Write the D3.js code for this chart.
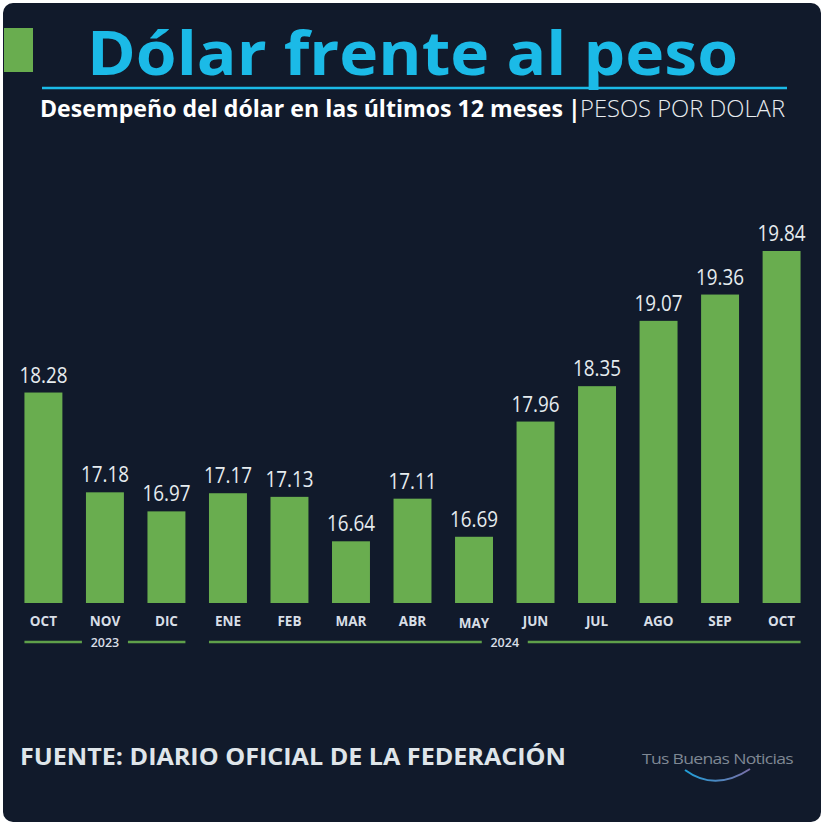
<!DOCTYPE html>
<html>
<head>
<meta charset="utf-8">
<script src="https://cdn.jsdelivr.net/npm/d3@7"></script>
<style>
  body { margin: 0; background: #ffffff; }
  text { font-family: "Open Sans", "Noto Sans", sans-serif; }
</style>
</head>
<body>
<script>
var months = ['OCT','NOV','DIC','ENE','FEB','MAR','ABR','MAY','JUN','JUL','AGO','SEP','OCT'];
var values = [18.28,17.18,16.97,17.17,17.13,16.64,17.11,16.69,17.96,18.35,19.07,19.36,19.84];
var yearLabels = ['2023','2024'];
var yearFirst = [0,3];
var yearLast = [2,12];

var W = 825, H = 827;
var keys = months.map(function(d,i){return i;});

var svg = d3.select("body").append("svg").attr("width",W).attr("height",H);

// card background
svg.append("rect")
    .attr("x",3).attr("y",3).attr("width",818).attr("height",819)
    .attr("rx",10).attr("fill","#111a2b");

// title block
svg.append("rect").attr("x",4).attr("y",28).attr("width",29).attr("height",44).attr("fill","#69ad4f");

svg.append("text")
    .attr("x",87).attr("y",75)
    .attr("fill","#1bbae7")
    .attr("font-size","60")
    .attr("font-weight","700")
    .attr("textLength",651)
    .attr("lengthAdjust","spacingAndGlyphs")
    .text("Dólar frente al peso");

svg.append("line")
    .attr("x1",42).attr("x2",787).attr("y1",88).attr("y2",88)
    .attr("stroke","#1bbae7").attr("stroke-width",2.5);

svg.append("text")
    .attr("x",40).attr("y",117)
    .attr("fill","#ffffff")
    .attr("font-size","23")
    .attr("font-weight","700")
    .attr("textLength",523)
    .attr("lengthAdjust","spacingAndGlyphs")
    .text("Desempeño del dólar en las últimos 12 meses");

svg.append("text")
    .attr("x",568).attr("y",117)
    .attr("fill","#ffffff")
    .attr("font-size","23")
    .attr("font-weight","700")
    .text("|");

svg.append("text")
    .attr("x",580).attr("y",117)
    .attr("fill","#e8ecf0")
    .attr("font-size","23")
    .attr("font-weight","300")
    .attr("textLength",205)
    .attr("lengthAdjust","spacingAndGlyphs")
    .text("PESOS POR DOLAR");

// scales
var x = d3.scaleBand()
        .domain(keys)
        .range([12.75, 812.25])
        .paddingInner(0.383)
        .paddingOuter(0.19);

var y = d3.scaleLinear()
        .domain([15.96, 19.84])
        .range([603, 251]);

svg.selectAll("rect.bar")
    .data(values)
    .enter().append("rect")
        .attr("class","bar")
        .attr("x",function(d,i){return x(i);})
        .attr("width",x.bandwidth())
        .attr("y",function(d){return y(d);})
        .attr("height",function(d){return y.range()[0]-y(d);})
        .attr("fill","#69ad4f");

svg.selectAll("text.val")
    .data(values)
    .enter().append("text")
        .attr("class","val")
        .attr("x",function(d,i){return x(i)+x.bandwidth()/2;})
        .attr("y",function(d){return y(d)-10;})
        .attr("text-anchor","middle")
        .attr("fill","#e6ecef")
        .attr("font-size","21")
        .attr("textLength",48)
        .attr("lengthAdjust","spacingAndGlyphs")
        .text(function(d){return d.toFixed(2);});

svg.selectAll("text.month")
    .data(months)
    .enter().append("text")
        .attr("class","month")
        .attr("x",function(d,i){return x(i)+x.bandwidth()/2;})
        .attr("y",function(d){return d==='MAY' ? 628 : 626;})
        .attr("text-anchor","middle")
        .attr("fill","#d8dee6")
        .attr("font-size","13.5")
        .attr("font-weight","700")
        .text(function(d){return d;});

// year brackets
var yearG = svg.selectAll("g.year")
    .data(yearLabels)
    .enter().append("g").attr("class","year");

yearG.each(function(d,i){
    var g = d3.select(this);
    var x0 = x(yearFirst[i]), x1 = x(yearLast[i]) + x.bandwidth();
    var cx = (x0 + x1) / 2;
    g.append("line").attr("x1",x0).attr("x2",cx-23).attr("y1",642).attr("y2",642)
        .attr("stroke","#5fa04a").attr("stroke-width",2.5);
    g.append("line").attr("x1",cx+23).attr("x2",x1).attr("y1",642).attr("y2",642)
        .attr("stroke","#5fa04a").attr("stroke-width",2.5);
    g.append("text").attr("x",cx).attr("y",647)
        .attr("text-anchor","middle")
        .attr("fill","#d8dee6")
        .attr("font-size","12.5")
        .attr("font-weight","600")
        .text(d);
});

// footer
svg.append("text")
    .attr("x",20).attr("y",765)
    .attr("fill","#dfe5ea")
    .attr("font-size","24")
    .attr("font-weight","700")
    .attr("textLength",546)
    .attr("lengthAdjust","spacingAndGlyphs")
    .text("FUENTE: DIARIO OFICIAL DE LA FEDERACIÓN");

// logo
var grad = svg.append("defs").append("linearGradient").attr("id","arc");
grad.append("stop").attr("offset","0%").attr("stop-color","#1f9fd8");
grad.append("stop").attr("offset","100%").attr("stop-color","#7a6fa8");

svg.append("text")
    .attr("x",642).attr("y",764)
    .attr("fill","#7f8894")
    .attr("font-size","15")
    .attr("letter-spacing","-0.6")
    .attr("textLength",151)
    .attr("lengthAdjust","spacingAndGlyphs")
    .text("Tus Buenas Noticias");

svg.append("path")
    .attr("d","M685,770 Q715,792 750,769")
    .attr("fill","none")
    .attr("stroke","url(#arc)")
    .attr("stroke-width",2);
</script>
</body>
</html>
